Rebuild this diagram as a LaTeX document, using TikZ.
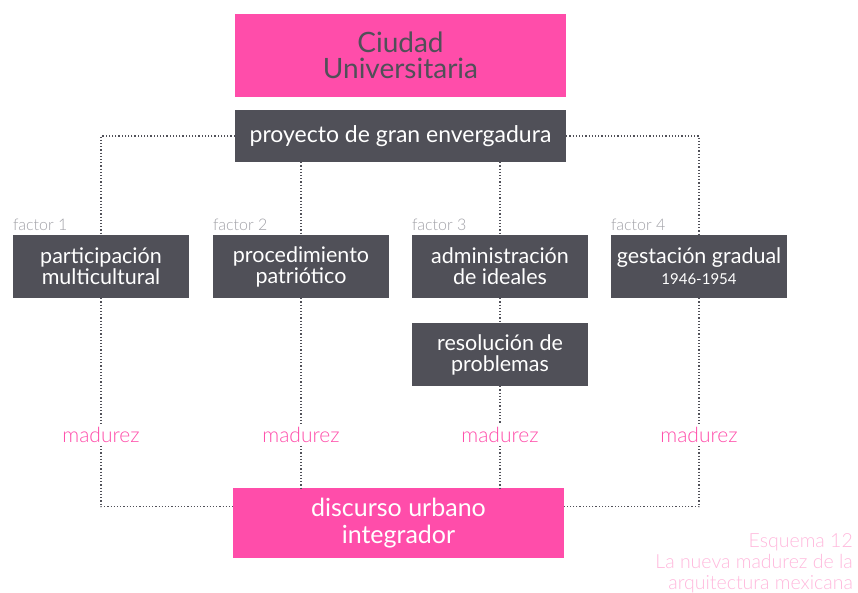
\documentclass[tikz,border=0pt]{standalone}
\usepackage{fontspec}
\setmainfont{Lato}
\newfontfamily\ligera{Lato Light}
\usetikzlibrary{positioning}

\definecolor{rosa}{HTML}{FF4DAA}
\definecolor{gris}{HTML}{505058}
\definecolor{rosaclaro}{HTML}{FFB8DC}
\definecolor{grisclaro}{HTML}{A0A0A6}

\tikzset{
  caja/.style = {fill = gris, text = white, inner sep = 0, align = center,
    minimum width = 176pt, minimum height = 63pt,
    font = \fontsize{21.5}{21}\selectfont},
  punteado/.style = {gris, dotted, line width = 1.2pt},
  etiqueta/.style = {anchor = base west, text = grisclaro, inner sep = 0,
    font = \ligera\fontsize{16}{18}\selectfont},
  madurez/.style = {fill = white, text = rosa, inner sep = 3pt,
    font = \ligera\fontsize{21}{22}\selectfont}
}

\begin{document}
\begin{tikzpicture}[x = 1pt, y = -1pt]
  \useasboundingbox (0, 0) rectangle (858, 592);

  \node[fill = rosa, text = gris, align = center, inner sep = 0,
    minimum width = 331pt, minimum height = 83pt,
    font = \fontsize{28}{26}\selectfont] (cu) at (400.5, 55.5)
    {Ciudad\\Universitaria};
  \node[caja, minimum width = 331pt, minimum height = 52pt,
    font = \fontsize{23}{22}\selectfont] (p) at (400.5, 136)
    {proyecto de gran envergadura};

  \foreach \i/\x/\t in {1/101/{participación\\multicultural},
    2/301/{procedimiento\\patriótico},
    3/500/{administración\\de ideales},
    4/699/{gestación gradual\\{\fontsize{15}{16}\selectfont 1946-1954}}}{
    \node[caja] (f\i) at (\x, 266.5) {\t};
    \node[etiqueta] (e\i) at ([yshift = 4pt]f\i.north west) {factor \i};
  }

  \node[caja] (r) at (500, 354.5) {resolución de\\problemas};

  \node[fill = rosa, text = white, align = center, inner sep = 0,
    minimum width = 331pt, minimum height = 70pt,
    font = \fontsize{25}{27}\selectfont] (d) at (398.5, 523)
    {discurso urbano\\integrador};

  % de proyecto a los factores
  \draw[punteado] (p.west) -| (f1.north);
  \draw[punteado] (p.south -| f2.north) -- (f2.north);
  \draw[punteado] (p.south -| f3.north) -- (f3.north);
  \draw[punteado] (p.east) -| (f4.north);
  \draw[punteado] (f3.south) -- (r.north);

  % madurez
  \foreach \i/\a in {1/f1, 2/f2, 3/r, 4/f4}{
    \node[madurez] (m\i) at (\a.south |- 0, 435) {madurez};
    \draw[punteado] (\a.south) -- (m\i.north);
  }
  \draw[punteado] (m1.south) |- ([yshift = -19pt]d.north west);
  \draw[punteado] (m2.south) -- (m2.south |- d.north);
  \draw[punteado] (m3.south) -- (m3.south |- d.north);
  \draw[punteado] (m4.south) |- ([yshift = -19pt]d.north east);

  \node[anchor = north east, align = right, text = rosaclaro, inner sep = 0,
    font = \ligera\fontsize{19.5}{21}\selectfont] (esq) at (853, 533)
    {Esquema 12\\La nueva madurez de la\\arquitectura mexicana};
\end{tikzpicture}
\end{document}
